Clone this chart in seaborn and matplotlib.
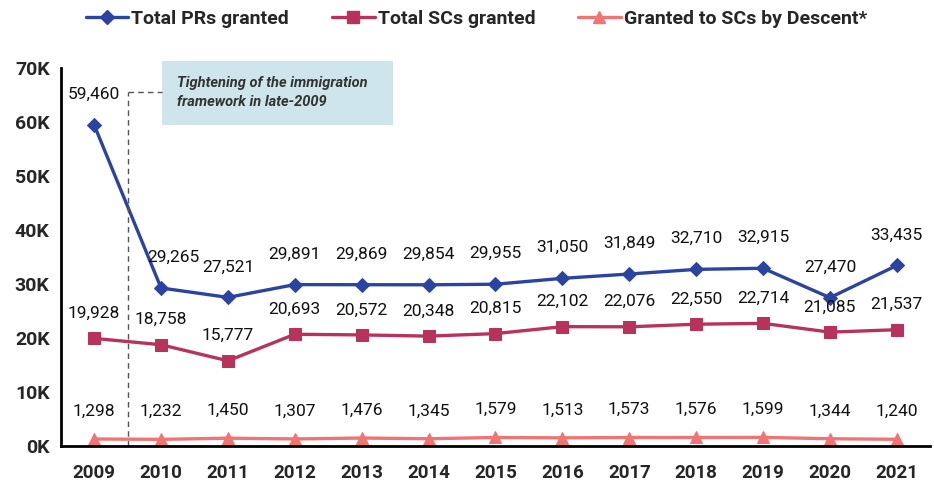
import numpy as np
import pandas as pd
import matplotlib
matplotlib.use("Agg")
import matplotlib.pyplot as plt
import seaborn as sns
from matplotlib.patches import Rectangle
from matplotlib.lines import Line2D

# data
years = ['2009', '2010', '2011', '2012', '2013', '2014', '2015',
         '2016', '2017', '2018', '2019', '2020', '2021']
pr_granted = [59460, 29265, 27521, 29891, 29869, 29854, 29955,
              31050, 31849, 32710, 32915, 27470, 33435]
sc_granted = [19928, 18758, 15777, 20693, 20572, 20348, 20815,
              22102, 22076, 22550, 22714, 21085, 21537]
sc_descent = [1298, 1232, 1450, 1307, 1476, 1345, 1579,
              1513, 1573, 1576, 1599, 1344, 1240]
y_ticks = [0, 10000, 20000, 30000, 40000, 50000, 60000, 70000]
y_ticklabels = ['0K', '10K', '20K', '30K', '40K', '50K', '60K', '70K']

# name, values, colour, marker, marker size, label offset (pt)
series = [
    ('Total PRs granted', pr_granted, '#2b44a0', 'D', 7, 22),
    ('Total SCs granted', sc_granted, '#b8335c', 's', 8, 18),
    ('Granted to SCs by Descent*', sc_descent, '#f07474', '^', 9, 20),
]

sns.set_theme(style='white')
plt.rcParams['font.family'] = ['Roboto', 'DejaVu Sans']

fig = plt.figure(figsize=(9.34, 4.84), dpi=100)
ax = fig.add_axes([0.065, 0.0785, 0.931, 0.781])

x = np.arange(len(years))
for name, vals, color, marker, ms, off in series:
    df = pd.DataFrame({'x': x, 'y': vals})
    sns.lineplot(data=df, x='x', y='y', ax=ax, color=color, linewidth=2.4,
                 marker=marker, markersize=ms, markeredgecolor=color,
                 label=name, legend=False)
    for xi, v in zip(x, vals):
        dx = 9 if (name == 'Total PRs granted' and xi == 1) else 0
        ax.annotate(f'{v:,}', (xi, v), xytext=(dx, off), textcoords='offset points',
                    ha='center', va='center', fontsize=12.5, color='#111111')

ax.set_xlim(-0.5, len(years) - 0.5)
ax.set_ylim(0, 70000)
ax.set_yticks(y_ticks)
ax.set_yticklabels(y_ticklabels, fontsize=14, fontweight='bold')
ax.set_xticks(x)
ax.set_xticklabels(years, fontsize=13.5, fontweight='bold')
ax.set_xticks(np.arange(-0.5, len(years), 1), minor=True)
ax.tick_params(axis='x', which='major', length=0, pad=13)
ax.tick_params(axis='x', which='minor', length=7, width=1.5, color='black', direction='out')
ax.tick_params(axis='y', length=5, width=1.5, color='black', direction='out', pad=3)
ax.set_xlabel('')
ax.set_ylabel('')
for s in ['top', 'right']:
    ax.spines[s].set_visible(False)
for s in ['left', 'bottom']:
    ax.spines[s].set_color('black')
    ax.spines[s].set_linewidth(2)

# dashed marker for late-2009 tightening
ax.plot([0.5, 0.5], [0, 65600], ls=(0, (4, 3)), color='#555555', lw=1, clip_on=False)
ax.plot([0.5, 1.02], [65600, 65600], ls=(0, (4, 3)), color='#555555', lw=1, clip_on=False)
ax.add_patch(Rectangle((1.02, 59400), 3.45, 11900, facecolor='#cee5eb',
                       edgecolor='none', clip_on=False, zorder=1))
ax.text(1.24, 65500, 'Tightening of the immigration\nframework in late-2009',
        fontsize=10.5, fontstyle='italic', fontweight='bold', color='#333333',
        va='center', ha='left', linespacing=1.45)

handles = [Line2D([0], [0], color=c, marker=m, markersize=ms, lw=2.4, markeredgecolor=c)
           for _, _, c, m, ms, _ in series]
labels = [s[0] for s in series]
fig.legend(handles, labels, loc='upper center', bbox_to_anchor=(0.51, 1.015), ncol=3,
           frameon=False, prop={'weight': 'bold', 'size': 14}, handlelength=2.2,
           handletextpad=0.15, columnspacing=2.2)

fig.savefig('out.png', dpi=100)
